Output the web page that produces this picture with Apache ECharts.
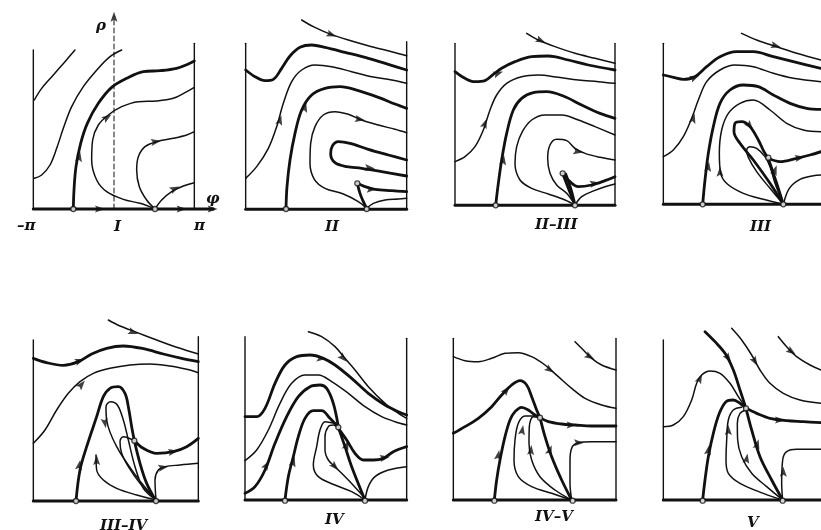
<!DOCTYPE html>
<html>
<head>
<meta charset="utf-8">
<script src="https://cdn.jsdelivr.net/npm/echarts@6/dist/echarts.min.js"></script>
<style>html,body{margin:0;background:#fff}#c{width:821px;height:530px}</style>
</head>
<body>
<div id="c"></div>
<script>

// ---- I ----
var thickI = [
    [[220,627],[222,570],[228,500],[242,430],[262,370],[295,310],[335,262],[380,235],[430,215],[480,212],[530,205],[565,192],[583,183]]
];
var thinI = [
    [[103,300],[125,265],[160,225],[195,185],[225,150]],
    [[103,535],[125,525],[150,495],[170,445],[190,385],[215,320],[250,260],[295,205],[330,170],[365,150]],
    [[462,625],[420,610],[370,598],[320,575],[290,540],[275,480],[278,420],[295,375],[325,345],[365,320],[415,305],[470,303],[520,295],[555,278],[583,262]],
    [[465,627],[440,600],[418,560],[410,510],[415,470],[435,440],[470,425],[520,415],[560,405],[583,395]],
    [[465,627],[485,600],[515,575],[550,558],[583,548]]
];
var nodesI = [[220,627],[465,627]];
var arrowsI = [[238,470,10],[322,352,55],[468,425,80],[525,566,65],[300,627,90],[545,627,90],[638,627,90],[342,50,0]];

// ---- II ----
var thickII = [
    [[62,150],[90,170],[120,182],[145,178],[170,145],[195,108],[225,82],[260,75],[300,82],[360,97],[430,115],[490,133],[545,150]],
    [[183,565],[186,500],[195,420],[210,340],[230,270],[260,225],[300,205],[345,200],[400,212],[460,232],[510,252],[545,265]],
    [[545,420],[490,405],[430,388],[375,370],[340,365],[322,378],[317,402],[330,428],[365,440],[410,445],[470,455],[545,468]],
    [[397,490],[420,500],[450,508],[500,512],[545,515]],
    [[397,490],[405,520],[415,545],[425,565]]
];
var thinII = [
    [[230,0],[265,20],[310,40],[370,60],[440,80],[500,95],[545,107]],
    [[62,475],[95,440],[130,385],[155,320],[175,250],[200,185],[230,150],[270,135],[320,140],[380,155],[440,170],[500,180],[545,190]],
    [[425,565],[400,545],[355,522],[300,505],[268,478],[255,430],[257,370],[270,320],[295,285],[330,275],[370,283],[410,300],[460,315],[510,328],[545,338]],
    [[425,565],[445,550],[480,540],[520,537],[545,535]]
];
var nodesII = [[183,567],[425,567],[397,490]];
var arrowsII = [[320,44,110],[165,300,15],[240,262,15],[405,298,100],[435,444,95],[440,508,90]];

// ---- II-III ----
var thickIIIII = [
    [[60,155],[90,175],[120,185],[150,182],[175,163],[200,145],[240,125],[290,110],[340,108],[400,120],[460,135],[540,150]],
    [[182,556],[190,490],[200,420],[215,340],[235,270],[260,235],[295,218],[335,215],[385,228],[440,255],[495,280],[540,295]],
    [[383,460],[405,485],[430,500],[470,495],[510,482],[540,470]],
    [[383,460],[400,505],[420,555]],
    [[392,462],[408,508],[420,555]]
];
var thinIIIII = [
    [[275,40],[310,60],[360,80],[420,100],[480,115],[540,130]],
    [[60,425],[90,410],[120,380],[145,330],[165,270],[185,225],[215,190],[260,170],[310,165],[370,172],[430,180],[490,185],[540,190]],
    [[420,555],[390,540],[340,522],[290,505],[255,480],[240,430],[245,380],[262,335],[290,300],[330,285],[380,285],[430,300],[480,320],[540,345]],
    [[420,555],[395,520],[365,495],[345,460],[338,415],[345,375],[365,358],[395,362],[420,385],[450,400],[495,412],[540,420]],
    [[420,555],[440,530],[470,515],[510,500],[540,492]]
];
var nodesIIIII = [[182,556],[420,556],[383,460]];
var arrowsIIIII = [[318,62,115],[190,160,70],[150,310,20],[205,420,8],[430,395,100],[480,490,80]];

// ---- III ----
var thickIII = [
    [[70,165],[100,172],[130,178],[165,170],[200,140],[240,110],[290,95],[340,95],[400,110],[460,125],[543,145]],
    [[188,553],[195,480],[205,400],[220,320],[240,250],[270,210],[310,195],[355,200],[400,225],[450,250],[500,265],[543,268]],
    [[430,553],[390,490],[340,420],[300,370],[282,335],[285,310],[305,305],[330,320],[355,360],[372,395],[385,415]],
    [[385,415],[420,425],[470,415],[510,405],[543,395]],
    [[385,415],[400,460],[415,505],[430,553]]
];
var thinIII = [
    [[305,40],[350,60],[410,80],[470,100],[543,120]],
    [[70,410],[100,390],[130,350],[155,295],[175,240],[200,185],[240,150],[285,135],[340,140],[400,160],[460,175],[543,185]],
    [[430,553],[370,538],[310,520],[262,492],[242,460],[238,400],[245,330],[265,280],[300,250],[340,240],[390,270],[440,310],[490,330],[543,335]],
    [[430,553],[390,505],[350,455],[325,412],[320,390],[330,380],[350,385],[375,410],[390,440],[405,490],[430,553]],
    [[430,553],[448,505],[480,478],[520,467],[543,465]]
];
var nodesIII = [[188,553],[430,553],[385,413]];
var arrowsIII = [[408,78,105],[165,172,65],[160,295,15],[205,440,8],[240,455,0],[330,318,140],[405,450,20],[480,413,80]];

// ---- III-IV ----
var thickIIIIV = [
    [[100,205],[140,218],[190,226],[235,215],[275,192],[320,175],[370,168],[430,176],[490,192],[545,205],[595,215]],
    [[228,633],[240,540],[260,470],[290,380],[310,320],[330,295],[355,290],[375,310],[385,350],[395,410],[403,452]],
    [[403,452],[430,475],[470,490],[520,485],[560,470],[595,445]],
    [[403,452],[420,520],[440,580],[468,633]]
];
var thinIIIIV = [
    [[325,90],[360,108],[410,127],[470,150],[530,172],[595,192]],
    [[100,460],[135,420],[170,360],[205,310],[240,275],[280,250],[330,235],[390,225],[450,222],[510,228],[560,238],[595,248]],
    [[468,630],[410,560],[350,470],[320,390],[318,350],[332,335],[352,345],[370,390],[385,450],[405,530],[430,595],[468,630]],
    [[403,452],[370,440],[360,455],[365,490],[385,530],[420,580],[468,630]],
    [[468,630],[465,570],[475,540],[495,530],[540,525],[595,520]],
    [[288,495],[290,540],[310,570],[350,595],[410,615],[468,630]]
];
var nodesIIIIV = [[228,633],[468,633],[403,452]];
var arrowsIIIIV = [[400,127,110],[240,212,70],[245,283,40],[238,525,10],[315,400,170],[290,510,0],[520,485,80],[490,532,80]];

// ---- IV ----
var thickIV = [
    [[60,380],[95,380],[120,355],[150,280],[180,225],[215,200],[255,195],[295,205],[330,225],[380,265],[430,310],[480,345],[520,365],[545,375]],
    [[60,610],[90,590],[120,540],[150,460],[185,380],[220,320],[255,290],[285,285],[305,295],[325,340],[340,410]],
    [[180,630],[190,560],[205,500],[220,440],[240,385],[265,362],[290,362],[315,385],[340,412]],
    [[340,412],[360,470],[380,530],[420,630]],
    [[340,415],[365,450],[390,490],[415,510],[445,510],[475,505],[505,485],[545,470]]
];
var thinIV = [
    [[250,125],[290,140],[330,170],[360,205],[390,240],[430,290],[480,340],[520,370],[545,385]],
    [[60,512],[95,480],[130,420],[165,340],[200,280],[240,255],[280,255],[320,275],[370,310],[420,350],[470,380],[510,395],[545,405]],
    [[340,415],[325,405],[310,410],[300,440],[300,480],[310,510],[330,530],[370,570],[420,625]],
    [[330,400],[300,395],[285,420],[275,470],[265,525],[280,560],[330,585],[380,605],[420,630]],
    [[420,630],[430,590],[450,560],[490,540],[545,530]]
];
var nodesIV = [[180,632],[420,632],[340,412]];
var arrowsIV = [[355,205,135],[290,205,95],[125,525,30],[205,515,15],[365,465,20],[480,503,80],[330,530,135]];

// ---- IV-V ----
var thickIVV = [
    [[55,430],[90,410],[130,385],[170,350],[200,315],[230,285],[255,272],[275,285],[290,320],[305,360],[315,383]],
    [[315,383],[340,395],[380,402],[420,405],[470,408],[543,408]],
    [[178,630],[185,570],[195,510],[210,440],[225,390],[240,365],[260,352],[280,360],[300,375],[315,383]],
    [[315,383],[330,440],[350,500],[380,570],[410,630]]
];
var thinIVV = [
    [[420,155],[445,180],[470,205],[500,225],[543,240]],
    [[55,200],[90,212],[130,215],[170,205],[210,190],[250,188],[290,200],[330,225],[370,260],[410,295],[450,325],[500,345],[543,355]],
    [[315,383],[295,380],[283,410],[282,460],[290,510],[315,560],[360,600],[410,630]],
    [[300,378],[270,378],[250,400],[240,450],[237,510],[250,560],[290,590],[350,610],[410,630]],
    [[410,630],[405,580],[405,510],[412,470],[430,458],[470,455],[543,455]]
];
var nodesIVV = [[178,632],[413,632],[315,383]];
var arrowsIVV = [[465,200,120],[345,240,125],[215,300,40],[190,495,10],[410,405,90],[262,420,10],[288,480,5],[345,480,20],[432,458,90]];

// ---- V ----
var thickV = [
    [[195,125],[225,155],[255,190],[280,240],[300,300],[318,355]],
    [[318,355],[350,370],[390,385],[440,392],[490,395],[543,398]],
    [[188,630],[195,570],[205,500],[220,430],[238,370],[258,335],[280,330],[300,340],[318,355]],
    [[318,355],[335,420],[360,500],[395,570],[428,630]]
];
var thinV = [
    [[415,140],[440,170],[470,200],[510,225],[543,240]],
    [[275,115],[305,150],[335,195],[360,240],[390,280],[430,310],[480,330],[543,340]],
    [[70,410],[100,405],[130,380],[155,330],[170,280],[185,255],[210,243],[240,250],[270,280],[295,320],[318,355]],
    [[318,360],[300,370],[292,400],[293,450],[305,500],[335,550],[380,590],[428,630]],
    [[305,352],[280,360],[265,390],[260,450],[258,510],[265,550],[300,580],[370,610],[428,630]],
    [[428,630],[425,580],[428,510],[440,485],[470,478],[543,478]]
];
var nodesV = [[188,632],[428,632],[318,355]];
var arrowsV = [[455,185,125],[345,215,150],[265,205,145],[180,265,25],[420,390,90],[205,480,10],[352,462,15],[265,420,0],[320,505,10],[430,545,0]];

// layout: crop rectangle on the page, frame of the panel in crop units
var panels = [
    { crop: [0, 0, 220, 240], l: 100, r: 583, b: 627, tl: 150, tr: 130, bEnd: 640, thick: thickI, thin: thinI, nodes: nodesI, arrows: arrowsI },
    { crop: [225, 20, 200, 220], l: 62, r: 545, b: 568, tl: 70, tr: 65, thick: thickII, thin: thinII, nodes: nodesII, arrows: arrowsII },
    { crop: [435, 20, 195, 220], l: 60, r: 540, b: 556, tl: 70, tr: 70, thick: thickIIIII, thin: thinIIIII, nodes: nodesIIIII, arrows: arrowsIIIII },
    { crop: [640, 20, 181, 220], l: 70, r: null, b: 553, tl: 70, bEnd: 543, thick: thickIII, thin: thinIII, nodes: nodesIII, arrows: arrowsIII },
    { crop: [0, 290, 225, 240], l: 100, r: 595, b: 633, tl: 150, tr: 140, thick: thickIIIIV, thin: thinIIIIV, nodes: nodesIIIIV, arrows: arrowsIIIIV },
    { crop: [225, 290, 200, 240], l: 60, r: 545, b: 630, tl: 140, tr: 145, thick: thickIV, thin: thinIV, nodes: nodesIV, arrows: arrowsIV },
    { crop: [435, 290, 195, 240], l: 55, r: 543, b: 630, tl: 145, tr: 145, thick: thickIVV, thin: thinIVV, nodes: nodesIVV, arrows: arrowsIVV },
    { crop: [640, 290, 181, 240], l: 70, r: null, b: 630, tl: 150, bEnd: 543, thick: thickV, thin: thinV, nodes: nodesV, arrows: arrowsV }
];

var labels = [
    ["I", 114, 220], ["II", 325, 220], ["II\u2013III", 535, 218], ["III", 750, 220],
    ["III\u2013IV", 100, 519], ["IV", 325, 513], ["IV\u2013V", 535, 510], ["V", 747, 516],
    ["\u2013\u03c0", 17, 219], ["\u03c0", 194, 219], ["\u03c1", 96, 19], ["\u03c6", 206, 192]
];

var ink = "#111";
var grids = [], xAxes = [], yAxes = [], series = [];

function lineSeries(i, pts, width, smooth, type) {
    return {
        type: "line", xAxisIndex: i, yAxisIndex: i, data: pts, smooth: smooth,
        showSymbol: false, silent: true, clip: false,
        lineStyle: { color: ink, width: width, type: type || "solid", cap: "round", join: "round" }
    };
}

panels.forEach(function (p, i) {
    var c = p.crop;
    grids.push({ left: c[0], top: c[1], width: c[2], height: c[3] });
    xAxes.push({ type: "value", gridIndex: i, min: 0, max: c[2] * 3, show: false });
    yAxes.push({ type: "value", gridIndex: i, min: 0, max: c[3] * 3, inverse: true, show: false });

    // frame: walls and the φ axis
    series.push(lineSeries(i, [[p.l, p.tl], [p.l, p.b]], 1.4, false));
    if (p.r) series.push(lineSeries(i, [[p.r, p.tr], [p.r, p.b]], 1.4, false));
    series.push(lineSeries(i, [[p.l, p.b], [p.bEnd || p.r, p.b]], 3, false));
    if (i === 0) series.push(lineSeries(i, [[342, p.b], [342, 50]], 1, false, [5, 3]));

    p.thin.forEach(function (pts) { series.push(lineSeries(i, pts, 1.5, 0.35)); });
    p.thick.forEach(function (pts) { series.push(lineSeries(i, pts, 2.8, 0.35)); });

    series.push({
        type: "scatter", xAxisIndex: i, yAxisIndex: i, silent: true, z: 4,
        symbol: "path://M0,-10 L5,6 L0,3 L-5,6 Z", symbolSize: [7, 10],
        itemStyle: { color: ink },
        data: p.arrows.map(function (a) { return { value: [a[0], a[1]], symbolRotate: -a[2] }; })
    });
    series.push({
        type: "scatter", xAxisIndex: i, yAxisIndex: i, silent: true, z: 5,
        symbol: "circle", symbolSize: 5,
        itemStyle: { color: "#fff", borderColor: ink, borderWidth: 1.3 },
        data: p.nodes
    });
});

var chart = echarts.init(document.getElementById("c"), null, { renderer: "canvas" });
chart.setOption({
    backgroundColor: "#fff",
    animation: false,
    grid: grids,
    xAxis: xAxes,
    yAxis: yAxes,
    series: series,
    graphic: labels.map(function (t) {
        return {
            type: "text", left: t[1], top: t[2], silent: true,
            style: {
                text: t[0], x: 0, y: 0, fill: ink, align: "center", verticalAlign: "middle",
                font: "italic bold 15px 'DejaVu Serif'"
            }
        };
    })
});
</script>
</body>
</html>
